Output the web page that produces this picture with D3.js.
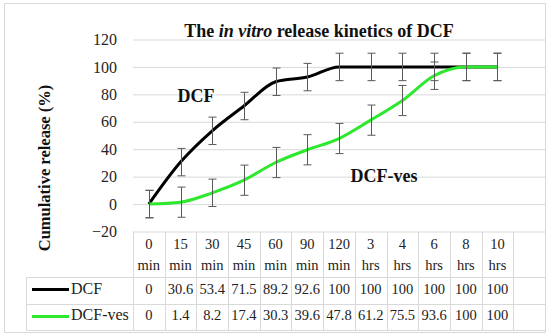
<!DOCTYPE html>
<html>
<head>
<meta charset="utf-8">
<script src="https://cdn.jsdelivr.net/npm/d3@7"></script>
<style>
  body { margin: 0; background: #fff; }
  svg { display: block; }
</style>
</head>
<body>
<svg width="550" height="335" font-family="Liberation Serif"></svg>
<script>
// chart data
var categories = ["0 min", "15 min", "30 min", "45 min", "60 min", "90 min", "120 min",
                  "3 hrs", "4 hrs", "6 hrs", "8 hrs", "10 hrs"];
var headTop = ["0", "15", "30", "45", "60", "90", "120", "3", "4", "6", "8", "10"];
var headBottom = ["min", "min", "min", "min", "min", "min", "min", "hrs", "hrs", "hrs", "hrs", "hrs"];
var dcf = [0, 30.6, 53.4, 71.5, 89.2, 92.6, 100, 100, 100, 100, 100, 100];
var dcfVes = [0, 1.4, 8.2, 17.4, 30.3, 39.6, 47.8, 61.2, 75.5, 93.6, 100, 100];
var errDcf = [10, 10, 10, 10, 10, 10, 10, 10, 10, 10, 10, 10];
var errVes = [10, 11, 10, 11, 11, 11, 11, 11, 11, 10, 10, 10];
var yTicks = [-20, 0, 20, 40, 60, 80, 100, 120];
var seriesNames = ["DCF", "DCF-ves"];
var seriesColors = ["#000000", "#2ee82e"];

var FONT = "Liberation Serif";
var svg = d3.select("svg");
var grid = "#d9d9d9";

// outer frame
svg.append("rect")
  .attr("x", 4.5).attr("y", 3.5)
  .attr("width", 541).attr("height", 329)
  .attr("fill", "none").attr("stroke", grid);

// scales (one empty slot on the right, like the table)
var x = d3.scaleBand()
  .domain(categories.concat([""]))
  .range([133, 545]);
var y = d3.scaleLinear()
  .domain([-20, 120])
  .range([231.5, 39.5]);

// y axis + gridlines
var yAxis = d3.axisLeft(y)
  .tickValues(yTicks)
  .tickSize(-(545 - 133))
  .tickPadding(16);

var gy = svg.append("g")
  .attr("transform", "translate(133,0)")
  .call(yAxis)
  .attr("font-family", FONT)
  .attr("font-size", 16);
gy.select(".domain").remove();
gy.selectAll(".tick line").attr("stroke", grid);
gy.selectAll(".tick text").attr("fill", "#262626");

// y label
svg.append("text")
  .attr("transform", "translate(50,168) rotate(-90)")
  .attr("text-anchor", "middle")
  .attr("font-family", FONT)
  .attr("font-weight", "bold")
  .attr("font-size", 16.5)
  .attr("fill", "#111")
  .text("Cumulative release (%)");

// title
var title = svg.append("text")
  .attr("x", 319).attr("y", 37)
  .attr("text-anchor", "middle")
  .attr("font-family", FONT)
  .attr("font-weight", "bold")
  .attr("font-size", 18)
  .attr("fill", "#111");
title.append("tspan").text("The ");
title.append("tspan").attr("font-style", "italic").text("in vitro");
title.append("tspan").text(" release kinetics of DCF");

// lines
var cx = function(i) { return x(categories[i]) + x.bandwidth() / 2; };
var line = d3.line()
  .x(function(d, i) { return cx(i); })
  .y(function(d) { return y(d); })
  .curve(d3.curveMonotoneX);

[dcf, dcfVes].forEach(function(vals, k) {
  svg.append("path")
    .datum(vals)
    .attr("d", line)
    .attr("fill", "none")
    .attr("stroke", seriesColors[k])
    .attr("stroke-width", 3)
    .attr("stroke-linejoin", "round");
});

// error bars
[[dcf, errDcf], [dcfVes, errVes]].forEach(function(s) {
  var g = svg.append("g").attr("stroke", "#595959").attr("stroke-width", 1);
  s[0].forEach(function(v, i) {
    var xx = Math.round(cx(i)) + 0.5;
    var top = y(v + s[1][i]), bot = y(v - s[1][i]);
    g.append("line").attr("x1", xx).attr("x2", xx).attr("y1", top).attr("y2", bot);
    g.append("line").attr("x1", xx - 4).attr("x2", xx + 4).attr("y1", top).attr("y2", top);
    g.append("line").attr("x1", xx - 4).attr("x2", xx + 4).attr("y1", bot).attr("y2", bot);
  });
});

// series labels
[[196, 102], [384, 182]].forEach(function(p, k) {
  svg.append("text")
    .attr("x", p[0]).attr("y", p[1])
    .attr("text-anchor", "middle")
    .attr("font-family", FONT)
    .attr("font-weight", "bold").attr("font-size", 18)
    .attr("fill", "#111")
    .text(seriesNames[k]);
});

// data table
var rowY = [231.5, 277.5, 304.5, 330.5];
var tbl = svg.append("g").attr("stroke", grid).attr("stroke-width", 1);
rowY.slice(1).forEach(function(yy) {
  tbl.append("line").attr("x1", 26.5).attr("x2", 545).attr("y1", yy).attr("y2", yy);
});
tbl.append("line").attr("x1", 26.5).attr("x2", 26.5).attr("y1", rowY[1]).attr("y2", rowY[3]);
x.domain().forEach(function(c) {
  var xx = Math.round(x(c)) + 0.5;
  tbl.append("line").attr("x1", xx).attr("x2", xx).attr("y1", rowY[0]).attr("y2", rowY[3]);
});

var tf = 14.5;
var head = svg.append("g")
  .attr("text-anchor", "middle").attr("fill", "#222")
  .attr("font-family", FONT).attr("font-size", tf);
categories.forEach(function(c, i) {
  head.append("text").attr("x", cx(i)).attr("y", 249).text(headTop[i]);
  head.append("text").attr("x", cx(i)).attr("y", 270).text(headBottom[i]);
});

[dcf, dcfVes].forEach(function(vals, k) {
  var base = k === 0 ? 294 : 320;
  var mid = k === 0 ? 289.5 : 316.5;
  var g = svg.append("g")
    .attr("font-family", FONT).attr("font-size", tf).attr("fill", "#222");
  g.append("line")
    .attr("x1", 32).attr("x2", 69).attr("y1", mid).attr("y2", mid)
    .attr("stroke", seriesColors[k]).attr("stroke-width", 3);
  g.append("text").attr("x", 71).attr("y", base).attr("font-size", 16).text(seriesNames[k]);
  vals.forEach(function(v, i) {
    g.append("text").attr("x", cx(i)).attr("y", base)
      .attr("text-anchor", "middle").text(v);
  });
});
</script>
</body>
</html>
